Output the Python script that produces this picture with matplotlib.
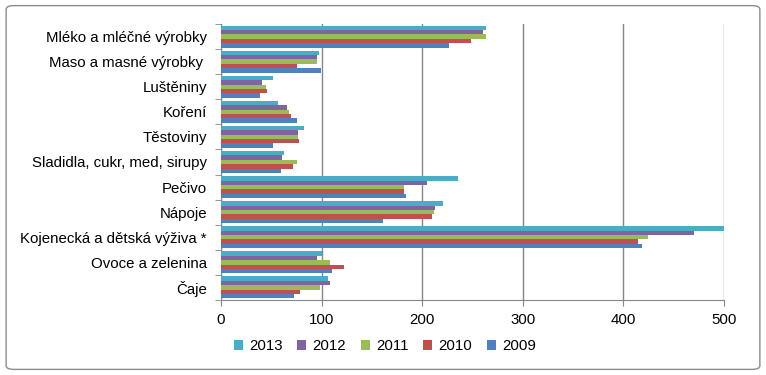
import matplotlib
matplotlib.use("Agg")
import matplotlib.pyplot as plt
import numpy as np
from matplotlib.patches import FancyBboxPatch

categories = ["Mléko a mléčné výrobky", "Maso a masné výrobky ", "Luštěniny", "Koření",
              "Těstoviny", "Sladidla, cukr, med, sirupy", "Pečivo", "Nápoje",
              "Kojenecká a dětská výživa *", "Ovoce a zelenina", "Čaje"]
years = ["2013", "2012", "2011", "2010", "2009"]
v2013 = [263, 97, 52, 57, 83, 63, 236, 221, 500, 100, 106]
v2012 = [260, 95, 41, 66, 77, 61, 205, 213, 470, 95, 108]
v2011 = [263, 95, 45, 68, 77, 76, 182, 212, 424, 108, 98]
v2010 = [249, 76, 46, 70, 78, 72, 182, 210, 415, 122, 79]
v2009 = [227, 99, 39, 76, 52, 60, 184, 161, 418, 110, 73]
series = [v2013, v2012, v2011, v2010, v2009]
colors = ["#4BACC6", "#8064A2", "#9BBB59", "#C0504D", "#4F81BD"]

plt.rcParams['font.family'] = ['Liberation Sans', 'DejaVu Sans']
fig = plt.figure(figsize=(7.66, 3.75), dpi=100)
fig.patches.append(FancyBboxPatch((0.008, 0.015), 0.984, 0.97, boxstyle="round,pad=0,rounding_size=0.01",
                                  transform=fig.transFigure, fill=False, edgecolor="#8c8c8c", linewidth=1))
ax = fig.add_axes([221/766, 1-300/375, (724-221)/766, (300-24)/375])

n = len(categories)
y = np.arange(n)
h = 0.175
for i, (s, c, yr) in enumerate(zip(series, colors, years)):
    ax.barh(y - 2*h + i*h, s, height=h, color=c, label=yr, zorder=3)

ax.set_ylim(n - 0.5, -0.5)
ax.set_xlim(0, 500)
ax.set_xticks([0, 100, 200, 300, 400, 500])
ax.set_yticks(y)
ax.set_yticklabels(categories, fontsize=10.8)
ax.set_yticks(np.arange(-0.5, n, 1), minor=True)
ax.tick_params(axis='y', which='major', length=0, pad=10)
ax.tick_params(axis='y', which='minor', length=4, color="#868686")
ax.tick_params(axis='x', length=4, color="#868686", labelsize=10.8, pad=5)
ax.grid(axis='x', color="#868686", linewidth=1, zorder=0)
for side in ['top', 'right']:
    ax.spines[side].set_visible(False)
for side in ['left', 'bottom']:
    ax.spines[side].set_color("#868686")

ax.legend(loc='center', bbox_to_anchor=(0.326, -0.168), ncol=5, frameon=False, fontsize=10.8,
          handlelength=0.6, handleheight=0.6, handletextpad=0.4, columnspacing=1.0)

fig.savefig("out.png", dpi=100)
